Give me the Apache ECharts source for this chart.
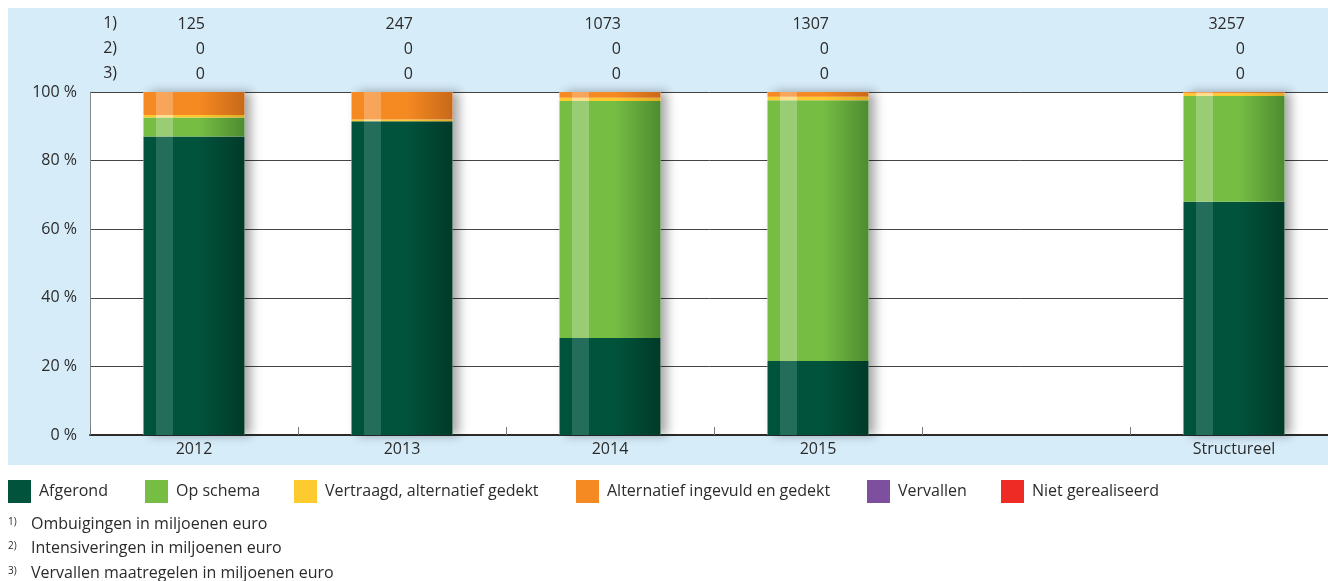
<!DOCTYPE html>
<html>
<head>
<meta charset="utf-8">
<script src="https://cdn.jsdelivr.net/npm/echarts@6/dist/echarts.min.js"></script>
<style>
  html, body { margin: 0; padding: 0; background: #fff; overflow: hidden; }
  #chart { width: 1328px; height: 581px; }
</style>
</head>
<body>
<div id="chart"></div>
<script>
// categorieen (5e kolom is leeg)
const categories = ['2012', '2013', '2014', '2015', '', 'Structureel'];

// aandelen in procenten
const afgerond      = [87.0, 91.5, 28.3, 21.6, null, 68.0];
const opSchema      = [5.6, 0, 69.1, 76.0, null, 30.8];
const vertraagd     = [0.7, 0.5, 0.9, 1.0, null, 0.8];
const alternatief   = [6.7, 8.0, 1.7, 1.4, null, 0.4];
const vervallen     = [0, 0, 0, 0, null, 0];
const nietGerealiseerd = [0, 0, 0, 0, null, 0];

// kopregels 1) 2) 3)
const ombuigingen     = [125, 247, 1073, 1307, null, 3257];
const intensiveringen = [0, 0, 0, 0, null, 0];
const vervallenMaatr  = [0, 0, 0, 0, null, 0];

const yTicks = [0, 20, 40, 60, 80, 100];

const footnotes = [
  'Ombuigingen in miljoenen euro',
  'Intensiveringen in miljoenen euro',
  'Vervallen maatregelen in miljoenen euro'
];

const FONT = '"Open Sans", sans-serif';
const TXT = '#2b2b2b';

// balk met lichte streep links en donkere rechterkant
function grad(base, light, dark) {
  return new echarts.graphic.LinearGradient(0, 0, 1, 0, [
    { offset: 0, color: base },
    { offset: 0.12, color: base },
    { offset: 0.12, color: light },
    { offset: 0.29, color: light },
    { offset: 0.29, color: base },
    { offset: 0.55, color: base },
    { offset: 1, color: dark }
  ]);
}

const colors = {
  'Afgerond': ['#01533b', '#246d5b', '#013a29'],
  'Op schema': ['#76bd43', '#9acd73', '#4e8c30'],
  'Vertraagd, alternatief gedekt': ['#fdcb2f', '#fde08c', '#e0ac22'],
  'Alternatief ingevuld en gedekt': ['#f48a21', '#f8a55a', '#c9681a'],
  'Vervallen': ['#7d4f9e', '#9a75b5', '#5e3a7a'],
  'Niet gerealiseerd': ['#ee2b24', '#f26560', '#c01f1a']
};

const seriesData = [
  ['Afgerond', afgerond],
  ['Op schema', opSchema],
  ['Vertraagd, alternatief gedekt', vertraagd],
  ['Alternatief ingevuld en gedekt', alternatief],
  ['Vervallen', vervallen],
  ['Niet gerealiseerd', nietGerealiseerd]
];

const totals = categories.map((c, i) => {
  let s = 0, any = false;
  seriesData.forEach(([, d]) => { if (d[i] != null) { s += d[i]; any = true; } });
  return any ? s : null;
});

const headerData = categories.map((c, i) => [i, 100, ombuigingen[i], intensiveringen[i], vervallenMaatr[i]])
  .filter(d => d[2] != null);

const chart = echarts.init(document.getElementById('chart'), null, { renderer: 'canvas' });

const series = [
  {
    name: 'schaduw',
    type: 'bar',
    data: totals,
    barWidth: 101,
    barGap: '-100%',
    z: 1,
    silent: true,
    itemStyle: {
      color: '#fff',
      shadowBlur: 10,
      shadowOffsetX: 6,
      shadowColor: 'rgba(0,0,0,0.35)'
    }
  }
];
seriesData.forEach(([name, d]) => {
  const c = colors[name];
  series.push({
    name: name,
    type: 'bar',
    stack: 'totaal',
    data: d,
    barWidth: 101,
    z: 2,
    itemStyle: { color: grad(c[0], c[1], c[2]) }
  });
});
series.push({
  type: 'custom',
  z: 3,
  silent: true,
  clip: false,
  data: headerData,
  encode: { x: 0, y: 1 },
  renderItem: function (params, api) {
    const p = api.coord([api.value(0), api.value(1)]);
    const rows = [api.value(2), api.value(3), api.value(4)];
    return {
      type: 'group',
      children: rows.map((v, k) => ({
        type: 'text',
        x: p[0] + 11,
        y: p[1] - 68 + k * 25,
        style: {
          text: String(v),
          fill: TXT,
          font: '16px ' + FONT,
          textAlign: 'right',
          textVerticalAlign: 'middle'
        }
      }))
    };
  }
});

// legenda op vaste posities
const legendLeft = [8, 145, 294, 576, 867, 1001];
const legends = seriesData.map(([name], i) => ({
  left: legendLeft[i],
  top: 480,
  padding: 0,
  itemWidth: 23,
  itemHeight: 23,
  icon: 'rect',
  selectedMode: false,
  textStyle: { fontFamily: FONT, fontSize: 16, color: TXT, padding: [0, 0, 0, 3] },
  data: [{ name: name, itemStyle: { color: colors[name][0] } }]
}));

const graphics = [
  {
    type: 'rect',
    z: -10,
    silent: true,
    shape: { x: 8, y: 8, width: 1320, height: 457 },
    style: { fill: '#d6ecf9' }
  }
];
['1)', '2)', '3)'].forEach((t, k) => {
  graphics.push({
    type: 'text',
    right: 1328 - 117,
    top: 15 + k * 25,
    style: { text: t, fill: TXT, font: '16px ' + FONT, textAlign: 'right' }
  });
});
footnotes.forEach((t, k) => {
  graphics.push({
    type: 'text',
    left: 8,
    top: 517 + k * 24.5,
    style: { text: (k + 1) + ')', fill: TXT, font: '10px ' + FONT }
  });
  graphics.push({
    type: 'text',
    left: 31,
    top: 516 + k * 24.5,
    style: { text: t, fill: TXT, font: '16px ' + FONT }
  });
});

const option = {
  animation: false,
  backgroundColor: '#fff',
  graphic: graphics,
  legend: legends,
  grid: {
    left: 90,
    top: 92,
    width: 1248,
    height: 343,
    outerBoundsMode: 'none',
    containLabel: false,
    show: true,
    backgroundColor: '#fff',
    borderWidth: 0
  },
  xAxis: {
    type: 'category',
    data: categories,
    axisLine: { show: true, lineStyle: { color: '#2b2b2b', width: 2 } },
    axisTick: { show: true, inside: true, length: 8, lineStyle: { color: '#777' } },
    axisLabel: { fontFamily: FONT, fontSize: 16, color: TXT, margin: 6 },
    splitLine: { show: false }
  },
  yAxis: {
    type: 'value',
    min: yTicks[0],
    max: yTicks[yTicks.length - 1],
    interval: 20,
    axisLine: { show: true, lineStyle: { color: '#888', width: 1 } },
    axisTick: { show: false },
    axisLabel: {
      fontFamily: FONT, fontSize: 16, color: TXT, margin: 13,
      formatter: v => v + ' %'
    },
    splitLine: { show: true, lineStyle: { color: '#444', width: 1 } }
  },
  series: series
};

chart.setOption(option);
</script>
</body>
</html>
